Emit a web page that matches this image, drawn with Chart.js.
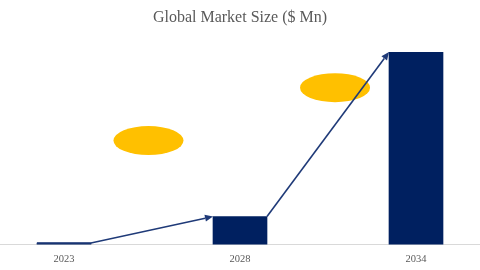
<!DOCTYPE html>
<html>
<head>
<meta charset="utf-8">
<script src="https://cdn.jsdelivr.net/npm/chart.js@4"></script>
<style>
  html, body { margin: 0; padding: 0; background: #ffffff; }
  #wrap { width: 480px; height: 270px; position: relative; }
</style>
</head>
<body>
<div id="wrap"><canvas id="c"></canvas></div>
<script>
// ---- data ----
const years = ['2023', '2028', '2034'];
const marketSize = [0.8, 14.6, 100];         // relative bar heights
const badgeAt = [0.48, 1.54];                 // category-position of the yellow label badges
const badgeValue = [54, 81.5];                // value-position of the yellow label badges

const points = years.map((y, i) => ({ x: i, y: marketSize[i] }));

const arrowPlugin = {
  id: 'growthArrows',
  afterDatasetsDraw(chart) {
    const ctx = chart.ctx;
    const bars = chart.getDatasetMeta(0).data;
    const xs = chart.scales.x, ys = chart.scales.y;
    // yellow badges
    ctx.save();
    ctx.fillStyle = '#FFC000';
    badgeAt.forEach((bx, i) => {
      const cx = xs.getPixelForValue(bx), cy = ys.getPixelForValue(badgeValue[i]);
      ctx.beginPath();
      ctx.ellipse(cx, cy, 35, 14.5, 0, 0, Math.PI * 2);
      ctx.fill();
    });
    ctx.restore();
    // arrows
    ctx.save();
    ctx.strokeStyle = '#1F3A78';
    ctx.fillStyle = '#1F3A78';
    ctx.lineWidth = 1.6;
    for (let i = 0; i < bars.length - 1; i++) {
      const a = bars[i], b = bars[i + 1];
      const x1 = a.x + a.width / 2, y1 = a.y;
      const x2 = b.x - b.width / 2, y2 = b.y;
      const ang = Math.atan2(y2 - y1, x2 - x1);
      const hl = 8, hw = 3.5;
      const ex = x2 - hl * Math.cos(ang), ey = y2 - hl * Math.sin(ang);
      ctx.beginPath();
      if (i === 0) { ctx.moveTo(a.x - a.width / 2, y1); ctx.lineTo(x1, y1); }
      else ctx.moveTo(x1, y1);
      ctx.lineTo(ex, ey);
      ctx.stroke();
      ctx.beginPath();
      ctx.moveTo(x2, y2);
      ctx.lineTo(ex + hw * Math.sin(ang), ey - hw * Math.cos(ang));
      ctx.lineTo(ex - hw * Math.sin(ang), ey + hw * Math.cos(ang));
      ctx.closePath();
      ctx.fill();
    }
    ctx.restore();
  }
};

new Chart(document.getElementById('c'), {
  type: 'bar',
  data: {
    datasets: [{
      data: points,
      backgroundColor: '#002060',
      borderWidth: 0,
      barThickness: 54
    }]
  },
  options: {
    responsive: true,
    maintainAspectRatio: false,
    animation: false,
    layout: { padding: { left: 0, right: 0, top: 0, bottom: -3.2 } },
    plugins: {
      legend: { display: false },
      tooltip: { enabled: false },
      title: {
        display: true,
        text: 'Global Market Size ($ Mn)',
        color: '#595959',
        font: { family: 'Liberation Serif', size: 16, weight: 'normal', lineHeight: 1.2 },
        padding: { top: 8, bottom: 24.8 }
      }
    },
    scales: {
      x: {
        type: 'linear',
        offset: false,
        min: 1 - 240 / 176,
        max: 1 + 240 / 176,
        grid: { display: false, drawTicks: false, tickLength: 0, offset: false },
        border: { display: true, color: '#D9D9D9', width: 1 },
        afterBuildTicks(scale) { scale.ticks = years.map((y, i) => ({ value: i })); },
        ticks: {
          autoSkip: false,
          maxRotation: 0,
          padding: 8,
          color: '#595959',
          font: { family: 'Liberation Serif', size: 10.5, lineHeight: 1.2 },
          callback: (v) => years[v] ?? ''
        }
      },
      y: {
        display: false,
        min: 0,
        max: 100
      }
    }
  },
  plugins: [arrowPlugin]
});
</script>
</body>
</html>
